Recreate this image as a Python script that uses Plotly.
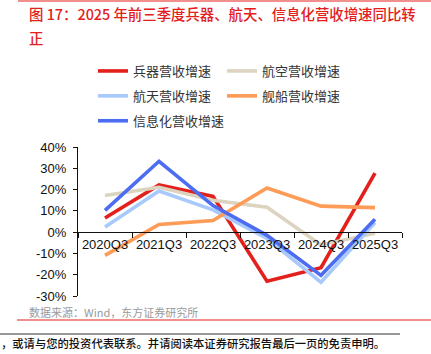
import plotly.graph_objects as go

# ---------------- data ----------------
quarters = ["2020Q3", "2021Q3", "2022Q3", "2023Q3", "2024Q3", "2025Q3"]
weapons = [6.6, 22.2, 16.8, -23.1, -16.7, 27.7]      # 兵器营收增速
aviation = [17.2, 21.1, 15.0, 11.7, -6.0, -0.5]      # 航空营收增速
aerospace = [2.4, 19.3, 10.5, -3.0, -23.5, 4.5]      # 航天营收增速
shipbuilding = [-10.9, 3.6, 5.5, 20.7, 12.2, 11.5]   # 舰船营收增速
information = [10.2, 33.3, 12.5, -1.5, -20.3, 6.0]   # 信息化营收增速

y_tickvals = [-30, -20, -10, 0, 10, 20, 30, 40]
y_ticktext = ["-30%", "-20%", "-10%", "0%", "10%", "20%", "30%", "40%"]

title_line1 = "图 17：2025 年前三季度兵器、航天、信息化营收增速同比转"
title_line2 = "正"
source_text = "数据来源：Wind，东方证券研究所"
footer_text = "，或请与您的投资代表联系。并请阅读本证券研究报告最后一页的免责申明。"

# ---------------- layout helpers ----------------
W, H = 431, 354
ML, MR, MT, MB = 78, 29, 147, 58
PW, PH = W - ML - MR, H - MT - MB
Y_RANGE = [-30, 40]


def px_x(x):
    return (x - ML) / PW


def px_y(y):
    return (H - MB - y) / PH


CJK = "Noto Sans CJK SC, Noto Sans, sans-serif"
LAT = "Liberation Sans, Arial, sans-serif"

series = [
    ("兵器营收增速", weapons, "#e3201c", "legend"),
    ("航空营收增速", aviation, "#ddd4c0", "legend2"),
    ("航天营收增速", aerospace, "#a8c9fb", "legend"),
    ("舰船营收增速", shipbuilding, "#fd9b57", "legend2"),
    ("信息化营收增速", information, "#4c6cf1", "legend"),
]

fig = go.Figure()
for i, (name, vals, color, leg) in enumerate(series):
    fig.add_trace(go.Scatter(
        x=quarters, y=vals, name=name, mode="lines",
        line=dict(color=color, width=3.6),
        legend=leg, legendgroup=f"g{i}",
    ))

zero_pos = (0 - Y_RANGE[0]) / (Y_RANGE[1] - Y_RANGE[0])

legend_common = dict(
    xanchor="left", yanchor="top",
    orientation="v", bgcolor="rgba(0,0,0,0)", borderwidth=0,
    font=dict(family=CJK, size=13, color="#333"),
    traceorder="grouped", tracegroupgap=5, itemwidth=30,
)

fig.update_layout(
    width=W, height=H,
    margin=dict(l=ML, r=MR, t=MT, b=MB, autoexpand=False),
    paper_bgcolor="white", plot_bgcolor="white",
    font=dict(family=LAT, size=13, color="#111"),
    showlegend=True,
    xaxis=dict(
        type="category", range=[-0.5, 5.5],
        anchor="free", position=zero_pos,
        showline=True, linecolor="#111", linewidth=1,
        ticks="outside", ticklen=5, tickcolor="#111", tickwidth=1,
        tickson="boundaries", tickangle=0,
        showgrid=False, zeroline=False,
        tickfont=dict(family=LAT, size=13, color="#111"),
    ),
    yaxis=dict(
        range=Y_RANGE, tickvals=y_tickvals, ticktext=y_ticktext,
        showline=True, linecolor="#111", linewidth=1,
        ticks="outside", ticklen=4, tickcolor="#111",
        showgrid=False, zeroline=False,
        ticklabelstandoff=4,
        tickfont=dict(family=LAT, size=13, color="#111"),
    ),
    legend=dict(x=px_x(93), y=px_y(56), **legend_common),
    legend2=dict(x=px_x(222), y=px_y(56), **legend_common),
)

annotations = [
    dict(text=title_line1, x=px_x(27), y=px_y(13), xanchor="left", yanchor="middle",
         font=dict(family=CJK, size=14.4, color="#e3201c", weight=500)),
    dict(text=title_line2, x=px_x(27), y=px_y(37), xanchor="left", yanchor="middle",
         font=dict(family=CJK, size=14.4, color="#e3201c", weight=500)),
    dict(text=source_text, x=px_x(27), y=px_y(311.5), xanchor="left", yanchor="middle",
         font=dict(family=CJK, size=11, color="#9a9a9a")),
    dict(text=footer_text, x=px_x(-1), y=px_y(343), xanchor="left", yanchor="middle",
         font=dict(family=CJK, size=11.3, color="#111", weight=500)),
]
for a in annotations:
    a.update(xref="paper", yref="paper", showarrow=False)
fig.update_layout(annotations=annotations)

shapes = [
    dict(x0=px_x(18), x1=px_x(431), y0=px_y(1), y1=px_y(1), color="#e3201c", w=1.2),
    dict(x0=px_x(17), x1=px_x(431), y0=px_y(320), y1=px_y(320), color="#e3201c", w=1.2),
    dict(x0=px_x(0), x1=px_x(400), y0=px_y(334), y1=px_y(334), color="#333", w=1),
]
for s in shapes:
    fig.add_shape(type="line", xref="paper", yref="paper",
                  x0=s["x0"], x1=s["x1"], y0=s["y0"], y1=s["y1"],
                  line=dict(color=s["color"], width=s["w"]))

fig.write_html("out.html")
